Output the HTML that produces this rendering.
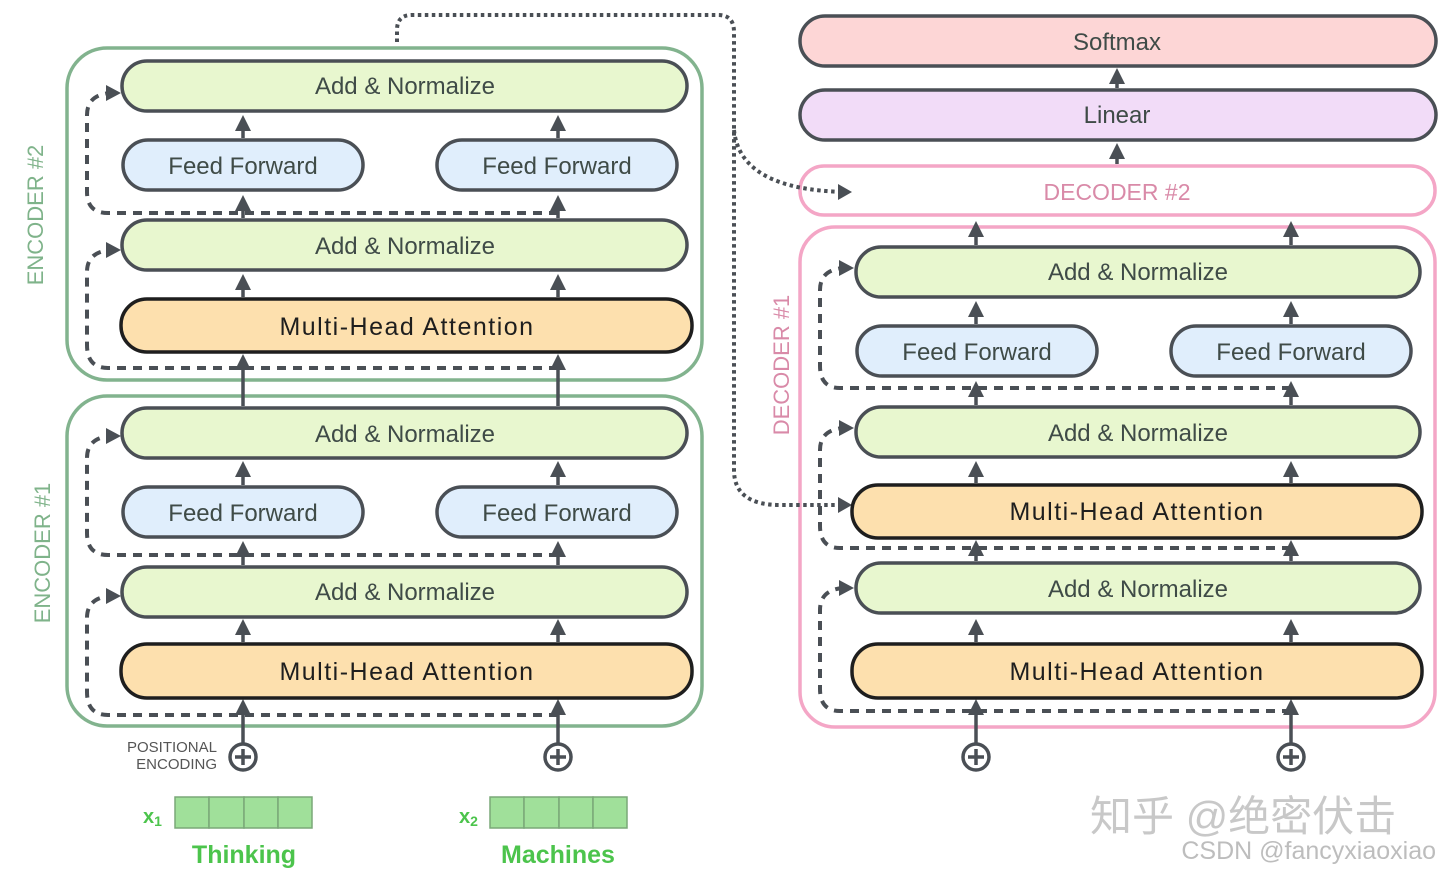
<!DOCTYPE html>
<html><head><meta charset="utf-8"><style>
html,body{margin:0;padding:0;background:#fff;width:1440px;height:875px;overflow:hidden}
svg{display:block}
text{font-family:"Liberation Sans","DejaVu Sans",sans-serif}
</style></head><body>
<svg width="1440" height="875" viewBox="0 0 1440 875" xmlns="http://www.w3.org/2000/svg">

<!-- Encoder containers -->
<rect x="67" y="48" width="635" height="332" rx="40" fill="none" stroke="#82b38e" stroke-width="3.5"/>
<rect x="67" y="396" width="635" height="330" rx="40" fill="none" stroke="#82b38e" stroke-width="3.5"/>
<text x="0" y="0" transform="translate(43,215) rotate(-90)" text-anchor="middle" font-size="22" fill="#7fb38a">ENCODER #2</text>
<text x="0" y="0" transform="translate(50,553) rotate(-90)" text-anchor="middle" font-size="22" fill="#7fb38a">ENCODER #1</text>

<!-- Decoder containers -->
<rect x="800" y="166" width="635" height="49" rx="24" fill="#fff" stroke="#f4a6c6" stroke-width="3.5"/>
<text x="1117" y="200" text-anchor="middle" font-size="23" fill="#d98aa8">DECODER #2</text>
<rect x="800" y="227" width="635" height="500" rx="35" fill="none" stroke="#f4a6c6" stroke-width="3.5"/>
<text x="0" y="0" transform="translate(789,365) rotate(-90)" text-anchor="middle" font-size="22" fill="#d98aa8">DECODER #1</text>

<!-- dotted encoder-decoder connection -->
<path d="M397,42 L397,30 Q397,15 412,15 L718,15 Q734,15 734,32 L734,470 Q734,505 780,505 L846,505" fill="none" stroke="#4a4f55" stroke-width="4" stroke-dasharray="3.5,3.5"/>
<path d="M734,130 Q740,190 846,192" fill="none" stroke="#4a4f55" stroke-width="4" stroke-dasharray="3.5,3.5"/>
<path d="M838,184 L852,192 L838,200 z" fill="#4a4f55"/>
<path d="M838,497 L852,505 L838,513 z" fill="#4a4f55"/>

<!-- residual dashed lines -->
<g fill="none" stroke="#4a4f55" stroke-width="4" stroke-dasharray="9,7">
<path d="M558,368 L108,368 Q87,368 87,345 L87,272 Q87,252 110,250"/>
<path d="M558,213 L108,213 Q87,213 87,192 L87,115 Q87,95 110,93"/>
<path d="M558,715 L108,715 Q87,715 87,692 L87,618 Q87,598 110,596"/>
<path d="M558,555 L108,555 Q87,555 87,533 L87,458 Q87,438 110,436"/>
<path d="M1291,388 L840,388 Q820,388 820,366 L820,290 Q820,270 843,268"/>
<path d="M1291,548 L840,548 Q820,548 820,526 L820,450 Q820,430 843,428"/>
<path d="M1291,711 L840,711 Q820,711 820,689 L820,610 Q820,590 843,588"/>
</g>
<g fill="#4a4f55">
<path d="M106,85 L121,93 L106,101 z"/><path d="M106,242 L121,250 L106,258 z"/>
<path d="M106,428 L121,436 L106,444 z"/><path d="M106,588 L121,596 L106,604 z"/>
<path d="M839,260 L854,268 L839,276 z"/><path d="M839,420 L854,428 L839,436 z"/>
<path d="M839,580 L854,588 L839,596 z"/>
</g>

<!-- vertical arrows -->
<g stroke="#4a4f55" stroke-width="3.5">
<line x1="243" y1="744" x2="243" y2="712"/><line x1="558" y1="744" x2="558" y2="712"/>
<line x1="243" y1="642" x2="243" y2="630"/><line x1="558" y1="642" x2="558" y2="630"/>
<line x1="243" y1="565" x2="243" y2="552"/><line x1="558" y1="565" x2="558" y2="552"/>
<line x1="243" y1="485" x2="243" y2="472"/><line x1="558" y1="485" x2="558" y2="472"/>
<line x1="243" y1="406" x2="243" y2="366"/><line x1="558" y1="406" x2="558" y2="366"/>
<line x1="243" y1="297" x2="243" y2="285"/><line x1="558" y1="297" x2="558" y2="285"/>
<line x1="243" y1="218" x2="243" y2="206"/><line x1="558" y1="218" x2="558" y2="206"/>
<line x1="243" y1="138" x2="243" y2="126"/><line x1="558" y1="138" x2="558" y2="126"/>
<line x1="976" y1="744" x2="976" y2="708"/><line x1="1291" y1="744" x2="1291" y2="708"/>
<line x1="976" y1="642" x2="976" y2="628"/><line x1="1291" y1="642" x2="1291" y2="628"/>
<line x1="976" y1="561" x2="976" y2="545"/><line x1="1291" y1="561" x2="1291" y2="545"/>
<line x1="976" y1="483" x2="976" y2="472"/><line x1="1291" y1="483" x2="1291" y2="472"/>
<line x1="976" y1="405" x2="976" y2="385"/><line x1="1291" y1="405" x2="1291" y2="385"/>
<line x1="976" y1="324" x2="976" y2="312"/><line x1="1291" y1="324" x2="1291" y2="312"/>
<line x1="976" y1="245" x2="976" y2="232"/><line x1="1291" y1="245" x2="1291" y2="232"/>
<line x1="1117" y1="88" x2="1117" y2="80"/><line x1="1117" y1="164" x2="1117" y2="154"/>
</g>
<g fill="#4a4f55">
<path d="M235,715 L243,699 L251,715z"/><path d="M550,715 L558,699 L566,715z"/>
<path d="M235,635 L243,619 L251,635z"/><path d="M550,635 L558,619 L566,635z"/>
<path d="M235,557 L243,541 L251,557z"/><path d="M550,557 L558,541 L566,557z"/>
<path d="M235,477 L243,461 L251,477z"/><path d="M550,477 L558,461 L566,477z"/>
<path d="M235,370 L243,354 L251,370z"/><path d="M550,370 L558,354 L566,370z"/>
<path d="M235,290 L243,274 L251,290z"/><path d="M550,290 L558,274 L566,290z"/>
<path d="M235,211 L243,195 L251,211z"/><path d="M550,211 L558,195 L566,211z"/>
<path d="M235,131 L243,115 L251,131z"/><path d="M550,131 L558,115 L566,131z"/>
<path d="M968,715 L976,699 L984,715z"/><path d="M1283,715 L1291,699 L1299,715z"/>
<path d="M968,635 L976,619 L984,635z"/><path d="M1283,635 L1291,619 L1299,635z"/>
<path d="M968,556 L976,540 L984,556z"/><path d="M1283,556 L1291,540 L1299,556z"/>
<path d="M968,477 L976,461 L984,477z"/><path d="M1283,477 L1291,461 L1299,477z"/>
<path d="M968,397 L976,381 L984,397z"/><path d="M1283,397 L1291,381 L1299,397z"/>
<path d="M968,317 L976,301 L984,317z"/><path d="M1283,317 L1291,301 L1299,317z"/>
<path d="M968,237 L976,221 L984,237z"/><path d="M1283,237 L1291,221 L1299,237z"/>
<path d="M1109,159 L1117,143 L1125,159z"/><path d="M1109,84 L1117,68 L1125,84z"/>
</g>

<!-- boxes -->
<g stroke="#4a4f55" stroke-width="3.5">
<rect x="122" y="61" width="565" height="50" rx="25" fill="#e8f7cf"/>
<rect x="123" y="140" width="240" height="50" rx="25" fill="#e0eefc"/>
<rect x="437" y="140" width="240" height="50" rx="25" fill="#e0eefc"/>
<rect x="122" y="220" width="565" height="50" rx="25" fill="#e8f7cf"/>
<rect x="122" y="408" width="565" height="50" rx="25" fill="#e8f7cf"/>
<rect x="123" y="487" width="240" height="50" rx="25" fill="#e0eefc"/>
<rect x="437" y="487" width="240" height="50" rx="25" fill="#e0eefc"/>
<rect x="122" y="567" width="565" height="50" rx="25" fill="#e8f7cf"/>
<rect x="800" y="16" width="636" height="50" rx="25" fill="#fdd6d6"/>
<rect x="800" y="90" width="636" height="50" rx="25" fill="#f2dcf8"/>
<rect x="856" y="247" width="564" height="50" rx="25" fill="#e8f7cf"/>
<rect x="857" y="326" width="240" height="50" rx="25" fill="#e0eefc"/>
<rect x="1171" y="326" width="240" height="50" rx="25" fill="#e0eefc"/>
<rect x="856" y="407" width="564" height="50" rx="25" fill="#e8f7cf"/>
<rect x="856" y="563" width="564" height="50" rx="25" fill="#e8f7cf"/>
</g>
<g stroke="#1e1e1e" stroke-width="3.5">
<rect x="121" y="299" width="571" height="53" rx="26" fill="#fde0ae"/>
<rect x="121" y="644" width="571" height="54" rx="26" fill="#fde0ae"/>
<rect x="852" y="485" width="570" height="53" rx="26" fill="#fde0ae"/>
<rect x="852" y="644" width="570" height="54" rx="26" fill="#fde0ae"/>
</g>
<g font-size="24" text-anchor="middle" fill="#3f4b47">
<text x="405" y="94">Add &amp; Normalize</text>
<text x="243" y="174">Feed Forward</text><text x="557" y="174">Feed Forward</text>
<text x="405" y="254">Add &amp; Normalize</text>
<text x="405" y="442">Add &amp; Normalize</text>
<text x="243" y="521">Feed Forward</text><text x="557" y="521">Feed Forward</text>
<text x="405" y="600">Add &amp; Normalize</text>
<text x="1117" y="50">Softmax</text>
<text x="1117" y="123">Linear</text>
<text x="1138" y="280">Add &amp; Normalize</text>
<text x="977" y="360">Feed Forward</text><text x="1291" y="360">Feed Forward</text>
<text x="1138" y="441">Add &amp; Normalize</text>
<text x="1138" y="597">Add &amp; Normalize</text>
</g>
<g font-size="25" text-anchor="middle" fill="#1e1e1e" letter-spacing="1.5">
<text x="407" y="335">Multi-Head Attention</text>
<text x="407" y="680">Multi-Head Attention</text>
<text x="1137" y="520">Multi-Head Attention</text>
<text x="1137" y="680">Multi-Head Attention</text>
</g>

<!-- plus circles -->
<g stroke="#4a4f55" stroke-width="3.5" fill="#fff">
<circle cx="243" cy="757" r="13"/><circle cx="558" cy="757" r="13"/>
<circle cx="976" cy="757" r="13"/><circle cx="1291" cy="757" r="13"/>
</g>
<g stroke="#4a4f55" stroke-width="3.5">
<path d="M235,757 H251 M243,749 V765"/><path d="M550,757 H566 M558,749 V765"/>
<path d="M968,757 H984 M976,749 V765"/><path d="M1283,757 H1299 M1291,749 V765"/>
</g>
<text x="217" y="752" text-anchor="end" font-size="15" fill="#555">POSITIONAL</text>
<text x="217" y="769" text-anchor="end" font-size="15" fill="#555">ENCODING</text>

<!-- inputs -->
<g fill="#a0e09a" stroke="#7aa878" stroke-width="1.5">
<rect x="175" y="797" width="34" height="31"/><rect x="209" y="797" width="35" height="31"/><rect x="244" y="797" width="34" height="31"/><rect x="278" y="797" width="34" height="31"/>
<rect x="490" y="797" width="34" height="31"/><rect x="524" y="797" width="35" height="31"/><rect x="559" y="797" width="34" height="31"/><rect x="593" y="797" width="34" height="31"/>
</g>
<g fill="#4cc44c" font-weight="bold">
<text x="143" y="823" font-size="20">x<tspan font-size="14" dy="3">1</tspan></text>
<text x="459" y="823" font-size="20">x<tspan font-size="14" dy="3">2</tspan></text>
<text x="244" y="863" font-size="25" text-anchor="middle">Thinking</text>
<text x="558" y="863" font-size="25" text-anchor="middle">Machines</text>
</g>

<!-- watermarks -->
<text x="1090" y="831" font-size="42" fill="#c8c8c8" font-family="'Liberation Sans','Noto Sans CJK SC',sans-serif">知乎 @绝密伏击</text>
<text x="1436" y="859" text-anchor="end" font-size="25" fill="#bdbdbd">CSDN @fancyxiaoxiao</text>
</svg>
</body></html>
